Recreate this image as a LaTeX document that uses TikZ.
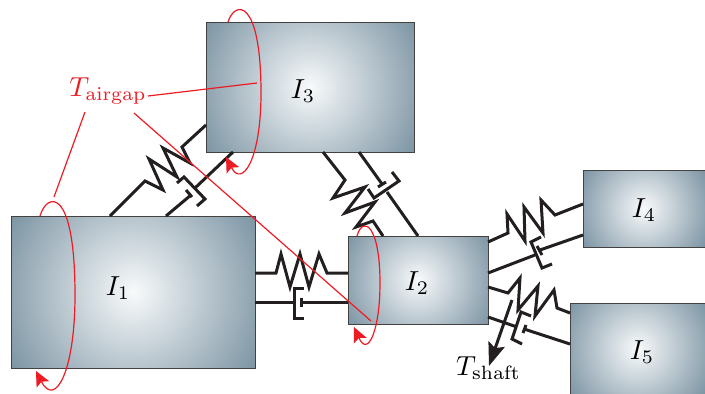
\documentclass[tikz,border=0pt]{standalone}
\usepackage{graphicx}
\usetikzlibrary{arrows.meta}
\definecolor{inedge}{HTML}{7C94A3}
\definecolor{incentre}{HTML}{F8FAFB}
\definecolor{redline}{HTML}{ED1C24}
\definecolor{inkline}{HTML}{231F20}
\newcommand{\bigmathtext}[1]{\scalebox{2.75}{$#1$}}
\tikzset{
  inertia/.style n args={3}{draw=inkline!85,line width=1pt,inner sep=0pt,minimum width=#1,minimum height=#2,
    path picture={\shade[inner color=incentre,outer color=inedge] (path picture bounding box.center) circle (#3);}},
  link/.style={draw=inkline,line width=3pt,miter limit=10},
  redthin/.style={draw=redline,line width=1.2pt},
  redspin/.style={draw=redline,line width=1.2pt,-{Stealth[length=15pt,width=14pt,inset=3pt,fill=redline]}},
  bigmath/.style={inner sep=0pt},
  shaftarrow/.style={draw=inkline,line width=3pt,-{Stealth[length=23pt,width=17pt,inset=4pt]}},
}
\begin{document}
\begin{tikzpicture}[x=1pt,y=-1pt]
\useasboundingbox (0,0) rectangle (705,394);
\clip (0,0) rectangle (705,394);
% inertias
\node[inertia={244pt}{152pt}{144pt}] (I1) at (133,292) {};
\node[inertia={140pt}{88pt}{83pt}] (I2) at (418,280) {};
\node[inertia={208pt}{130pt}{123pt}] (I3) at (310,87) {};
\node[inertia={122pt}{77pt}{72pt}] (I4) at (644,208.5) {};
\node[inertia={135pt}{91pt}{82pt}] (I5) at (637.5,348.5) {};
\node[bigmath] (L1) at (118,288) {\bigmathtext{I_1}};
\node[bigmath] (L2) at (417,283) {\bigmathtext{I_2}};
\node[bigmath] (L3) at (303,91) {\bigmathtext{I_3}};
\node[bigmath] (L4) at (644,210) {\bigmathtext{I_4}};
\node[bigmath] (L5) at (642,352) {\bigmathtext{I_5}};
\node[bigmath,text=redline] (Tag) at (108,91) {\bigmathtext{T_{\mathrm{airgap}}}};
\node[bigmath] (Tsh) at (488.5,368) {\bigmathtext{T_{\mathrm{shaft}}}};
% connector ends on the boxes
\coordinate (a1) at (110,216); \coordinate (a3) at (206,125);
\coordinate (b1) at (166,216); \coordinate (b3) at (233,152);
\coordinate (c3) at (323,152); \coordinate (c2) at (383,236);
\coordinate (d3) at (359,152); \coordinate (d2) at (418,236);
\coordinate (e2) at (488,242); \coordinate (e4) at (583,204);
\coordinate (f2) at (488,273); \coordinate (f4) at (583,235);
\coordinate (g2) at (488,287); \coordinate (g5) at (570,313);
\coordinate (h2) at (488,317); \coordinate (h5) at (570,344);
\coordinate (i1) at (255,273); \coordinate (i2) at (348,273);
\coordinate (j1) at (255,302); \coordinate (j2) at (348,302);
% I1-I3
\draw[link] (a1) -- (145,181) -- (163,190) -- (149,159) -- (177,177) -- (163,148) -- (190,163) -- (182,147) -- (a3);
\draw[link] (b1) -- (191,195);
\draw[link] (186,190) -- (192,197);
\draw[link] (177,183) -- (184,177) -- (205,199) -- (197,206);
\draw[link] (195,188) -- (b3);
% I3-I2
\draw[link] (c3) -- (345,180) -- (333,198) -- (365,187) -- (345,213) -- (375,202) -- (356,227) -- (373,221) -- (c2);
\draw[link] (d3) -- (382,184);
\draw[link] (378,187) -- (386,182);
\draw[link] (368,189) -- (374,198) -- (399,181) -- (392,172);
\draw[link] (387,192) -- (d2);
% I2-I4
\draw[link] (e2) -- (508,233) -- (507,214) -- (525,241) -- (524,207) -- (543,233) -- (541,200) -- (555,215) -- (e4);
\draw[link] (f2) -- (535,255);
\draw[link] (541,237) -- (531,242) -- (542,268) -- (552,264);
\draw[link] (537,246) -- (542,255);
\draw[link] (540,250) -- (f4);
% I2-I5
\draw[link] (g2) -- (508,293) -- (520,278) -- (518,310) -- (538,286) -- (535,316) -- (554,290) -- (557,308) -- (g5);
\draw[link] (h2) -- (517,327);
\draw[link] (531,316) -- (521,312) -- (512,339) -- (522,344);
\draw[link] (526,325) -- (523,333);
\draw[link] (524,329) -- (h5);
% I1-I2
\draw[link] (i1) -- (276,273) -- (281,254) -- (290,287) -- (300,254) -- (309,287) -- (319,254) -- (327,273) -- (i2);
\draw[link] (j1) -- (294,302);
\draw[link] (304,288) -- (294,288) -- (294,318) -- (304,318);
\draw[link] (301,298) -- (301,307);
\draw[link] (301,302) -- (j2);
% shaft torque
\coordinate (s0) at (512,300);
\draw[shaftarrow] (s0) -- (489,366);
% airgap torque
\coordinate (r1) at (54,197); \coordinate (r3) at (257,83); \coordinate (r2) at (371,321);
\draw[redthin] (85,112) -- (r1);
\draw[redthin] (148,96) -- (r3);
\draw[redthin] (134,113) -- (r2);
\coordinate (e1s) at (40,216);
\draw[redspin] (e1s) .. controls (47,192) and (75,186) .. (75,295) .. controls (75,372) and (55,408) .. (36,371);
\coordinate (e3s) at (228,22);
\draw[redspin] (e3s) .. controls (235,0) and (261,-2) .. (261,93) .. controls (261,160) and (242,188) .. (226,157);
\coordinate (e2s) at (357,236);
\draw[redspin] (e2s) .. controls (363,215) and (380,225) .. (380,283) .. controls (380,330) and (368,358) .. (354,327);
\end{tikzpicture}
\end{document}
